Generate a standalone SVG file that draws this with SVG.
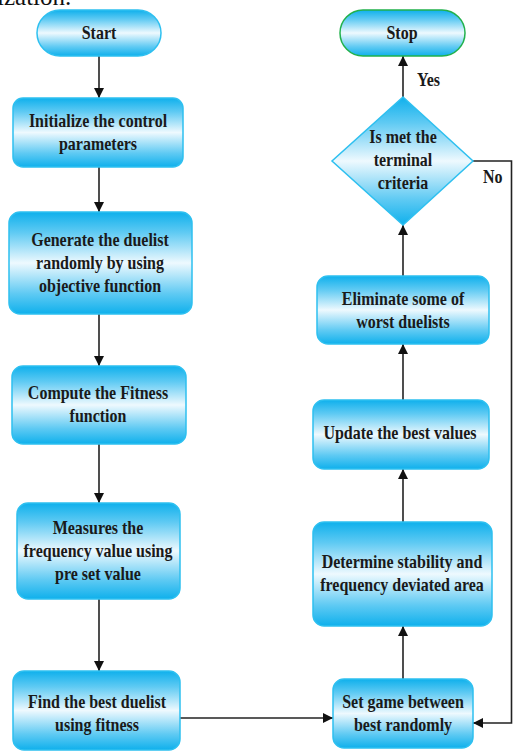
<svg xmlns="http://www.w3.org/2000/svg" width="513" height="753" viewBox="0 0 513 753">
<defs>
<linearGradient id="g" x1="0" y1="0" x2="0" y2="1">
<stop offset="0" stop-color="#0fb0ec"/>
<stop offset="0.2" stop-color="#5fcaf3"/>
<stop offset="0.5" stop-color="#eef9fe"/>
<stop offset="0.8" stop-color="#5fcaf3"/>
<stop offset="1" stop-color="#0fb0ec"/>
</linearGradient>
<marker id="ah" viewBox="0 0 10 10" refX="10" refY="5" markerWidth="10" markerHeight="10" markerUnits="userSpaceOnUse" orient="auto">
<path d="M0,0 L10,5 L0,10 Z" fill="#111"/>
</marker>
<style>
.box{fill:url(#g);stroke:#2ec0f0;stroke-width:1.5}
.stop{fill:url(#g);stroke:#22b14c;stroke-width:1.5}
.t{font-family:"Liberation Serif","Times New Roman",serif;font-weight:bold;font-size:16px;fill:#1a1a1a;text-anchor:middle}
.lbl{font-family:"Liberation Serif","Times New Roman",serif;font-weight:bold;font-size:16px;fill:#1a1a1a}
.c{fill:none;stroke:#222;stroke-width:1.6}
</style>
</defs>
<text x="-3" y="5" font-family="Liberation Serif,Times New Roman,serif" font-size="25" fill="#111">ization.</text>

<g id="connectors">
<line class="c" x1="99" y1="56" x2="99" y2="98" marker-end="url(#ah)"/>
<line class="c" x1="99" y1="167" x2="99" y2="212" marker-end="url(#ah)"/>
<line class="c" x1="99" y1="314" x2="99" y2="366" marker-end="url(#ah)"/>
<line class="c" x1="99" y1="444" x2="99" y2="503" marker-end="url(#ah)"/>
<line class="c" x1="99" y1="599" x2="99" y2="671" marker-end="url(#ah)"/>
<line class="c" x1="180" y1="718" x2="333" y2="718" marker-end="url(#ah)"/>
<line class="c" x1="403" y1="679" x2="403" y2="626" marker-end="url(#ah)"/>
<line class="c" x1="403" y1="522" x2="403" y2="469" marker-end="url(#ah)"/>
<line class="c" x1="403" y1="400" x2="403" y2="344" marker-end="url(#ah)"/>
<line class="c" x1="403" y1="276" x2="403" y2="225" marker-end="url(#ah)"/>
<line class="c" x1="403" y1="97" x2="403" y2="56" marker-end="url(#ah)"/>
<polyline class="c" points="473,161 511.5,161 511.5,723 473,723" marker-end="url(#ah)"/>
<text class="lbl" transform="translate(417,86) scale(1,1.2)">Yes</text>
<text class="lbl" transform="translate(483,183) scale(1,1.2)">No</text>
</g>

<g id="start">
<rect class="box" x="37" y="10" width="124" height="46" rx="23"/>
<text class="t" transform="translate(99,39) scale(1,1.2)">Start</text>
</g>
<g id="init">
<rect class="box" x="13" y="98" width="170" height="69" rx="10"/>
<text class="t" transform="translate(98,127) scale(1,1.2)"><tspan x="0">Initialize the control</tspan><tspan x="0" dy="19.2">parameters</tspan></text>
</g>
<g id="generate">
<rect class="box" x="9" y="212" width="183" height="102" rx="11"/>
<text class="t" transform="translate(100,246) scale(1,1.2)"><tspan x="0">Generate the duelist</tspan><tspan x="0" dy="19.2">randomly by using</tspan><tspan x="0" dy="19.2">objective function</tspan></text>
</g>
<g id="compute">
<rect class="box" x="12" y="366" width="174" height="78" rx="11"/>
<text class="t" transform="translate(98,399) scale(1,1.2)"><tspan x="0">Compute the Fitness</tspan><tspan x="0" dy="19.2">function</tspan></text>
</g>
<g id="measures">
<rect class="box" x="17" y="503" width="163" height="96" rx="11"/>
<text class="t" transform="translate(98,534) scale(1,1.2)"><tspan x="0">Measures the</tspan><tspan x="0" dy="19.2">frequency value using</tspan><tspan x="0" dy="19.2">pre set value</tspan></text>
</g>
<g id="find">
<rect class="box" x="13" y="671" width="167" height="79" rx="11"/>
<text class="t" transform="translate(97,708) scale(1,1.2)"><tspan x="0">Find the best duelist</tspan><tspan x="0" dy="19.2">using fitness</tspan></text>
</g>
<g id="setgame">
<rect class="box" x="333" y="679" width="140" height="69" rx="11"/>
<text class="t" transform="translate(403,708) scale(1,1.2)"><tspan x="0">Set game between</tspan><tspan x="0" dy="19.2">best randomly</tspan></text>
</g>
<g id="determine">
<rect class="box" x="313" y="522" width="179" height="104" rx="11"/>
<text class="t" transform="translate(402,568) scale(1,1.2)"><tspan x="0">Determine stability and</tspan><tspan x="0" dy="19.2">frequency deviated area</tspan></text>
</g>
<g id="update">
<rect class="box" x="313" y="400" width="176" height="69" rx="11"/>
<text class="t" transform="translate(400,439) scale(1,1.2)">Update the best values</text>
</g>
<g id="eliminate">
<rect class="box" x="317" y="276" width="172" height="68" rx="11"/>
<text class="t" transform="translate(403,305) scale(1,1.2)"><tspan x="0">Eliminate some of</tspan><tspan x="0" dy="19.2">worst duelists</tspan></text>
</g>
<g id="decision">
<polygon class="box" points="403,97 473,161 403,225 332,161"/>
<text class="t" transform="translate(403,143) scale(1,1.2)"><tspan x="0">Is met the</tspan><tspan x="0" dy="19.2">terminal</tspan><tspan x="0" dy="19.2">criteria</tspan></text>
</g>
<g id="stop">
<rect class="stop" x="340" y="10" width="125" height="46" rx="23"/>
<text class="t" transform="translate(402,39) scale(1,1.2)">Stop</text>
</g>
</svg>
